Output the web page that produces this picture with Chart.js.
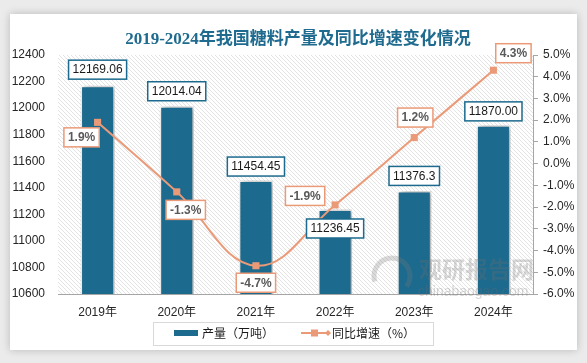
<!DOCTYPE html>
<html lang="zh">
<head>
<meta charset="UTF-8">
<title>2019-2024年我国糖料产量及同比增速变化情况</title>
<script src="https://cdn.jsdelivr.net/npm/chart.js"></script>
<style>
  html, body { margin: 0; padding: 0; }
  body { width: 587px; height: 363px; background: #ebebeb; position: relative; overflow: hidden; }
  .card { position: absolute; left: 10px; top: 14px; width: 567px; height: 336px; background: #fff; box-shadow: 0 0 8px rgba(0,0,0,0.22); }
  #chart { position: absolute; left: 0; top: 0; }
</style>
</head>
<body>
<div class="card"></div>
<canvas id="chart" width="587" height="363"></canvas>
<script>
// data
const years = ['2019年', '2020年', '2021年', '2022年', '2023年', '2024年'];
const output = [12169.06, 12014.04, 11454.45, 11236.45, 11376.3, 11870.00];
const outputText = ['12169.06', '12014.04', '11454.45', '11236.45', '11376.3', '11870.00'];
const growth = [1.9, -1.3, -4.7, -1.9, 1.2, 4.3];

// label offsets (px from the mark)
const barLabelDy = [-16, -15, -14, 19, -15, -14];
const pctLabelOff = [[-16, 15], [9, 18], [0, 17], [-30, -9], [1, -20], [20, -17]];

const BLUE = '#1c6a8e';
const ORANGE = '#eb9a78';
const FONT = "'Liberation Sans', 'Noto Sans CJK SC', sans-serif";

// diagonal hatch for plot area
const hatch = (() => {
    const c = document.createElement('canvas');
    c.width = 4; c.height = 4;
    const g = c.getContext('2d');
    g.fillStyle = '#fff';
    g.fillRect(0, 0, 4, 4);
    g.strokeStyle = '#dcdcdc';
    g.lineWidth = 0.8;
    g.beginPath();
    g.moveTo(-1, -1); g.lineTo(5, 5);
    g.moveTo(-1, 3); g.lineTo(1, 5);
    g.moveTo(3, -1); g.lineTo(5, 1);
    g.stroke();
    return c;
})();

function boxLabel(ctx, text, cx, cy, border, color, bold) {
    ctx.font = (bold ? 'bold ' : '') + '12px ' + FONT;
    const w = ctx.measureText(text).width + 8;
    const h = 19;
    ctx.fillStyle = '#fff';
    ctx.fillRect(cx - w / 2, cy - h / 2, w, h);
    ctx.strokeStyle = border;
    ctx.lineWidth = 1.5;
    ctx.strokeRect(cx - w / 2, cy - h / 2, w, h);
    ctx.fillStyle = color;
    ctx.textAlign = 'center';
    ctx.textBaseline = 'middle';
    ctx.fillText(text, cx, cy + 0.5);
}

const decor = {
    id: 'decor',
    beforeDraw(chart) {
        const { ctx, chartArea: a } = chart;
        ctx.save();
        ctx.fillStyle = ctx.createPattern(hatch, 'repeat');
        ctx.fillRect(a.left, a.top, a.right - a.left, a.bottom - a.top);
        ctx.restore();
    },
    beforeDatasetDraw(chart, args) {
        if (args.index === 0) {
            const ctx = chart.ctx;
            ctx.save();
            ctx.shadowColor = 'rgba(0,0,0,0.4)';
            ctx.shadowBlur = 6;
            ctx.shadowOffsetX = 2;
            ctx.shadowOffsetY = 0;
        }
    },
    afterDatasetDraw(chart, args) {
        if (args.index === 0) chart.ctx.restore();
    },
    afterDatasetsDraw(chart) {
        const ctx = chart.ctx;
        // watermark
        ctx.save();
        ctx.globalAlpha = 0.28;
        ctx.strokeStyle = '#7a7a7a';
        ctx.lineWidth = 5;
        ctx.beginPath();
        ctx.arc(392, 276, 18, Math.PI * 0.9, Math.PI * 2.2);
        ctx.stroke();
        ctx.fillStyle = '#6e6e6e';
        ctx.font = "bold 23px 'Noto Sans CJK SC', sans-serif";
        ctx.textAlign = 'left';
        ctx.textBaseline = 'middle';
        ctx.fillText('观研报告网', 419, 269);
        ctx.font = "14px " + FONT;
        ctx.fillText('chinabaogao.com', 418, 292);
        ctx.restore();

        // labels
        const bars = chart.getDatasetMeta(0).data;
        const pts = chart.getDatasetMeta(1).data;
        ctx.save();
        bars.forEach((b, i) => {
            boxLabel(ctx, outputText[i], b.x, b.y + barLabelDy[i], BLUE, '#1a1a1a', false);
        });
        pts.forEach((p, i) => {
            const o = pctLabelOff[i];
            boxLabel(ctx, growth[i].toFixed(1) + '%', p.x + o[0], p.y + o[1], ORANGE, '#595959', true);
        });
        ctx.restore();
    },
    afterDraw(chart) {
        const ctx = chart.ctx;
        ctx.save();
        // title
        ctx.fillStyle = '#1f6b8f';
        ctx.font = "bold 17px 'Liberation Serif', 'Noto Sans CJK SC', serif";
        ctx.textAlign = 'center';
        ctx.textBaseline = 'middle';
        ctx.fillText('2019-2024年我国糖料产量及同比增速变化情况', 298, 40);

        // legend
        ctx.strokeStyle = '#d9d9d9';
        ctx.lineWidth = 1;
        ctx.strokeRect(153.5, 322.5, 280, 23);
        ctx.fillStyle = BLUE;
        ctx.fillRect(174, 330, 24, 6);
        ctx.fillStyle = '#1a1a1a';
        ctx.font = "12px 'Noto Sans CJK SC', sans-serif";
        ctx.textAlign = 'left';
        ctx.fillText('产量（万吨）', 202, 333.5);
        ctx.strokeStyle = ORANGE;
        ctx.lineWidth = 2;
        ctx.beginPath();
        ctx.moveTo(301, 333); ctx.lineTo(328, 333);
        ctx.stroke();
        ctx.fillStyle = ORANGE;
        ctx.fillRect(311, 329.5, 7, 7);
        ctx.beginPath();
        ctx.moveTo(328, 330); ctx.lineTo(331, 333); ctx.lineTo(328, 336); ctx.lineTo(325, 333);
        ctx.fill();
        ctx.fillStyle = '#1a1a1a';
        ctx.fillText('同比增速（%）', 332, 333.5);
        ctx.restore();
    }
};

new Chart(document.getElementById('chart'), {
    data: {
        labels: years,
        datasets: [{
            type: 'bar',
            label: '产量（万吨）',
            data: output,
            yAxisID: 'y',
            backgroundColor: BLUE,
            borderColor: '#ffffff',
            borderWidth: 1.5,
            barPercentage: 0.43,
            categoryPercentage: 1,
            order: 2
        }, {
            type: 'line',
            label: '同比增速（%）',
            data: growth,
            yAxisID: 'y1',
            borderColor: ORANGE,
            backgroundColor: ORANGE,
            borderWidth: 2,
            tension: 0.4,
            pointStyle: 'rect',
            pointRadius: 5,
            pointBorderWidth: 0,
            order: 1
        }]
    },
    options: {
        responsive: false,
        animation: false,
        layout: { padding: { top: 55, left: 0, right: 0, bottom: 0 } },
        plugins: {
            legend: { display: false },
            tooltip: { enabled: false }
        },
        scales: {
            x: {
                grid: { display: false, drawTicks: false },
                border: { color: '#a6a6a6', width: 1 },
                ticks: { color: '#262626', font: { size: 12, family: FONT }, padding: 11 },
                afterFit: s => { s.height = 69; }
            },
            y: {
                position: 'left',
                min: 10600,
                max: 12400,
                grid: { display: false, drawTicks: false },
                border: { display: false },
                ticks: {
                    stepSize: 200,
                    color: '#262626',
                    font: { size: 12, family: FONT },
                    padding: 13,
                    callback: v => String(v)
                },
                afterFit: s => { s.width = 58; }
            },
            y1: {
                position: 'right',
                min: -6,
                max: 5,
                grid: { drawOnChartArea: false, tickLength: 5, color: '#a6a6a6' },
                border: { color: '#a6a6a6', width: 1 },
                ticks: {
                    stepSize: 1,
                    color: '#262626',
                    font: { size: 12, family: FONT },
                    padding: 5,
                    callback: v => v.toFixed(1) + '%'
                },
                afterFit: s => { s.width = 54; }
            }
        }
    },
    plugins: [decor]
});
</script>
</body>
</html>
